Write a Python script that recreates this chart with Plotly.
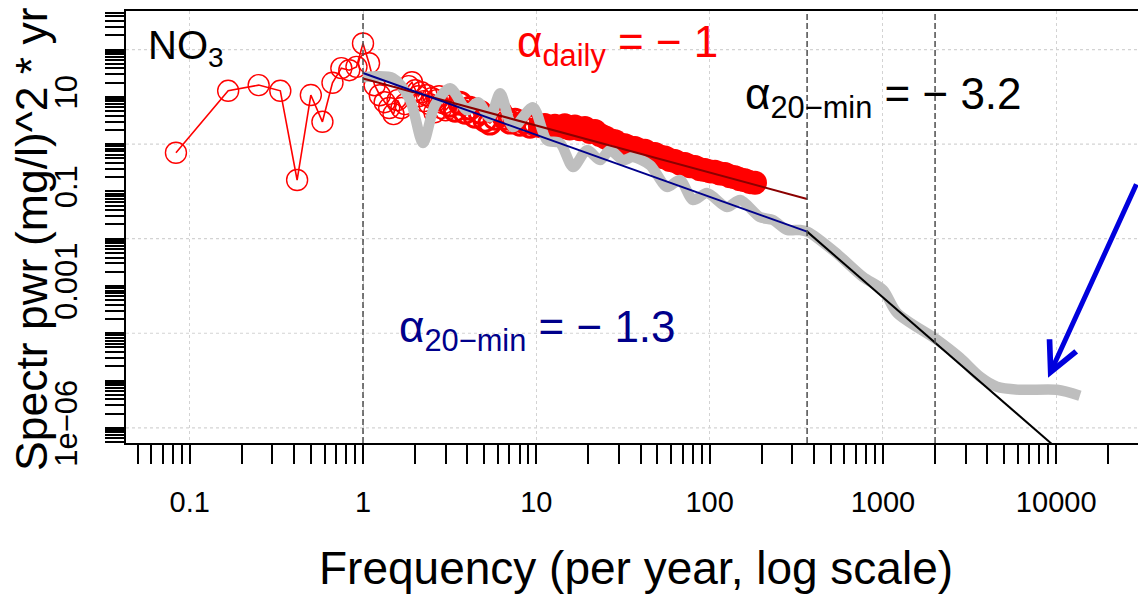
import plotly.graph_objects as go

# ---------------- data ----------------
# daily-data periodogram, low-frequency part (open circles)
red_freq_low = [0.0833, 0.1667, 0.25, 0.3333, 0.4167, 0.5, 0.5833, 0.6667, 0.75, 0.8333,
                0.9167, 1.0, 1.0833, 1.1667, 1.25, 1.3333, 1.4167, 1.5, 1.5833, 1.6667,
                1.75, 1.8333, 1.9167, 2.0, 2.0833, 2.1667, 2.25, 2.3333, 2.4167, 2.5,
                2.5833, 2.6667, 2.75, 2.8333, 2.9167, 3.0]
red_pwr_low = [0.656, 13.4, 17.7, 13.4, 0.174, 10.9, 2.96, 19.8, 40.4, 36.6,
               43.0, 134.0, 51.4, 17.6, 10.8, 7.7, 5.8, 4.3, 8.5, 5.8,
               7.0, 16.8, 20.4, 13.8, 10.3, 12.5, 8.1, 10.8, 7.0, 9.4,
               4.7, 8.5, 10.3, 5.8, 7.3, 5.2]

# daily periodogram, middle part (dense open circles)
red_freq_mid = [3.18, 3.40, 3.63, 3.88, 4.14, 4.43, 4.73, 5.06, 5.40, 5.78,
                6.18, 6.60, 7.05, 7.54, 8.05, 8.61, 9.20, 9.83]
red_pwr_mid = [6.66, 5.23, 7.34, 4.74, 5.76, 3.90, 4.74, 3.21, 2.78, 3.54,
               4.74, 3.54, 2.92, 3.21, 2.64, 2.92, 2.40, 2.64]

# daily periodogram, high-frequency part (circles so dense they merge)
red_freq_high = [10.5, 11.2, 12.0, 12.8, 13.7, 14.6, 15.6, 16.7, 17.9, 19.1,
                 20.4, 21.8, 23.3, 24.9, 26.6, 28.5, 30.4, 32.5, 34.7, 37.1,
                 39.7, 42.4, 45.3, 48.4, 51.7, 55.3, 59.1, 63.1, 67.5, 72.1,
                 77.1, 82.4, 88.1, 94.0, 100.5, 107.4, 114.8, 122.7, 131.2, 140.2,
                 149.8, 160.1, 171.1, 182.8]
red_pwr_high = [2.40, 2.55, 2.20, 2.45, 2.25, 2.50, 2.15, 2.35, 2.05, 2.20,
                1.80, 1.90, 1.55, 1.40, 1.22, 1.15, 0.98, 0.95, 0.85, 0.83,
                0.74, 0.72, 0.63, 0.62, 0.55, 0.52, 0.46, 0.44, 0.39, 0.38,
                0.34, 0.33, 0.295, 0.285, 0.265, 0.26, 0.24, 0.232, 0.21, 0.20,
                0.18, 0.172, 0.157, 0.152]

# 20-min data periodogram (smoothed, grey)
grey_freq = [1.0, 1.49, 1.87, 2.22, 2.60, 3.18, 3.98, 4.61, 5.40, 6.18,
             7.34, 9.57, 11.5, 13.7, 16.3, 19.6, 23.3, 26.6, 31.6, 36.1,
             45.3, 56.8, 67.5, 80.2, 96.6, 126, 150, 195, 232, 280,
             333, 370, 529, 768, 1002, 1206, 2051, 2786, 3634, 4550,
             6180, 10110, 13700]
grey_pwr = [26.0, 24.8, 8.5, 1.05, 6.7, 15.2, 5.2, 7.7, 3.7, 11.9,
            2.29, 6.0, 1.21, 1.05, 0.327, 0.747, 0.459, 0.747, 0.459, 0.531,
            0.360, 0.124, 0.174, 0.0657, 0.0923, 0.0467, 0.0657, 0.0287, 0.0248, 0.0153,
            0.0153, 0.0139, 0.00524, 0.00155, 0.000826, 0.000270, 7.26e-5, 3.02e-5, 1.20e-5, 7.38e-6,
            6.38e-6, 6.38e-6, 4.76e-6]

# fitted power-law lines
fit_daily_freq = [1.0, 365.25]
fit_daily_pwr = [24.4, 0.069]
fit_20lo_freq = [1.0, 365.25]
fit_20lo_pwr = [32.0, 0.0141]
fit_20hi_freq = [365.25, 15000.0]
fit_20hi_pwr = [0.0141, 1.04e-7]

# reference frequencies (dashed verticals)
vline_freq = [1.0, 365.25, 2000.0]

# axis ticks
x_tick_vals = [0.1, 1, 10, 100, 1000, 10000]
x_tick_text = ["0.1", "1", "10", "100", "1000", "10000"]
y_tick_vals = [10, 0.1, 0.001, 1e-6]
y_tick_text = ["10", "0.1", "0.001", "1e\u221206"]
y_grid_vals = [100, 1, 0.01, 1e-4, 1e-6]

FONT = "Liberation Sans, Arial, Helvetica, sans-serif"

x_minor = [d * 10.0 ** e for e in range(-2, 5) for d in range(1, 10)
           if d * 10.0 ** e not in x_tick_vals]
y_minor = [d * 10.0 ** e for e in range(-7, 3) for d in range(1, 10)
           if not any(abs(d * 10.0 ** e - v) < 1e-12 * max(v, 1e-12) + 1e-15 for v in y_tick_vals)]

fig = go.Figure()

# red connecting line through all daily points
fig.add_trace(go.Scatter(
    x=red_freq_low + red_freq_mid + red_freq_high,
    y=red_pwr_low + red_pwr_mid + red_pwr_high,
    mode="lines", line=dict(color="#FF0000", width=1.6), hoverinfo="skip", showlegend=False))
fig.add_trace(go.Scatter(
    x=red_freq_low, y=red_pwr_low, mode="markers",
    marker=dict(symbol="circle-open", size=21, color="#FF0000", line=dict(width=1.4)),
    showlegend=False))
fig.add_trace(go.Scatter(
    x=red_freq_mid, y=red_pwr_mid, mode="markers",
    marker=dict(symbol="circle-open", size=22, color="#FF0000", line=dict(width=3)),
    showlegend=False))
fig.add_trace(go.Scatter(
    x=red_freq_high, y=red_pwr_high, mode="markers",
    marker=dict(symbol="circle", size=24, color="#FF0000", line=dict(width=0)),
    showlegend=False))
# grey 20-min spectrum
fig.add_trace(go.Scatter(
    x=grey_freq, y=grey_pwr, mode="lines",
    line=dict(color="#BEBEBE", width=10.5, shape="spline", smoothing=0.8),
    showlegend=False))
# fitted lines
fig.add_trace(go.Scatter(x=fit_daily_freq, y=fit_daily_pwr, mode="lines",
                         line=dict(color="#8B0000", width=2), showlegend=False))
fig.add_trace(go.Scatter(x=fit_20lo_freq, y=fit_20lo_pwr, mode="lines",
                         line=dict(color="#00008B", width=2), showlegend=False))
fig.add_trace(go.Scatter(x=fit_20hi_freq, y=fit_20hi_pwr, mode="lines",
                         line=dict(color="#000000", width=2), showlegend=False))

shapes = []
for v in y_grid_vals:
    shapes.append(dict(type="line", xref="paper", x0=0, x1=1, yref="y", y0=v, y1=v,
                       line=dict(color="#D3D3D3", width=1.2, dash="dot"), layer="below"))
for v in vline_freq:
    shapes.append(dict(type="line", xref="x", x0=v, x1=v, yref="paper", y0=0, y1=1,
                       line=dict(color="#4D4D4D", width=1.5, dash="6px,3px"), layer="above"))

W, H = 1138, 595
ML, MT, MB = 126, 11, 152
PW, PH = W - ML, H - MT - MB


def px(xp):
    return (xp - ML) / PW


def py(yp):
    return (H - MB - yp) / PH


annotations = [
    dict(text="NO<sub>3</sub>", x=px(146), y=py(21), xref="paper", yref="paper",
         xanchor="left", yanchor="top", showarrow=False,
         font=dict(family=FONT, size=40, color="black")),
    dict(text="\u03b1<sub>daily</sub> = \u2212 1", x=px(617), y=py(45), xref="paper", yref="paper",
         xanchor="center", yanchor="middle", showarrow=False,
         font=dict(family=FONT, size=44, color="#FF0000")),
    dict(text="\u03b1<sub>20\u2212min</sub> = \u2212 3.2", x=px(883), y=py(97), xref="paper", yref="paper",
         xanchor="center", yanchor="middle", showarrow=False,
         font=dict(family=FONT, size=44, color="black")),
    dict(text="\u03b1<sub>20\u2212min</sub> = \u2212 1.3", x=px(537), y=py(330), xref="paper", yref="paper",
         xanchor="center", yanchor="middle", showarrow=False,
         font=dict(family=FONT, size=44, color="#00008B")),
    # axis titles
    dict(text="Frequency (per year, log scale)", x=px(636), y=py(568), xref="paper", yref="paper",
         xanchor="center", yanchor="middle", showarrow=False,
         font=dict(family=FONT, size=46, color="black")),
    dict(text="Spectr pwr (mg/l)^2 * yr", x=px(31), y=py(239), xref="paper", yref="paper",
         xanchor="center", yanchor="middle", showarrow=False, textangle=-90,
         font=dict(family=FONT, size=44.5, color="black")),
    # arrow pointing at the high-frequency flattening
    dict(x=3.953, y=-4.942, xref="x", yref="y", text="", showarrow=True,
         arrowhead=5, arrowsize=1.15, arrowwidth=5, arrowcolor="#0000DD",
         ax=89, ay=-195, axref="pixel", ayref="pixel", standoff=0),
]

fig.update_layout(
    width=W, height=H,
    margin=dict(l=ML, r=0, t=MT, b=MB, pad=0),
    paper_bgcolor="white", plot_bgcolor="white",
    font=dict(family=FONT, color="black"),
    shapes=shapes, annotations=annotations,
    showlegend=False,
    xaxis=dict(type="log", range=[-1.3676, 4.472],
               tickmode="array", tickvals=x_tick_vals, ticktext=x_tick_text,
               ticks="outside", ticklen=19, tickwidth=1.5, tickcolor="black",
               tickfont=dict(family=FONT, size=29, color="black"),
               ticklabelstandoff=13,
               showline=True, linewidth=2, linecolor="black", mirror=True,
               showgrid=True, gridcolor="#D3D3D3", gridwidth=1.2, griddash="dot",
               zeroline=False,
               minor=dict(tickmode="array", tickvals=x_minor, ticks="outside", ticklen=19,
                          tickwidth=1.5, tickcolor="black", showgrid=False)),
    yaxis=dict(type="log", range=[-6.321, 2.815],
               tickmode="array", tickvals=y_tick_vals, ticktext=y_tick_text,
               tickangle=-90,
               ticks="outside", ticklen=19, tickwidth=1.5, tickcolor="black",
               tickfont=dict(family=FONT, size=31, color="black"),
               ticklabelstandoff=16,
               showline=True, linewidth=2, linecolor="black", mirror=False,
               showgrid=False, zeroline=False,
               minor=dict(tickmode="array", tickvals=y_minor, ticks="outside", ticklen=19,
                          tickwidth=1.5, tickcolor="black", showgrid=False)),
)

fig.write_html("out.html")
